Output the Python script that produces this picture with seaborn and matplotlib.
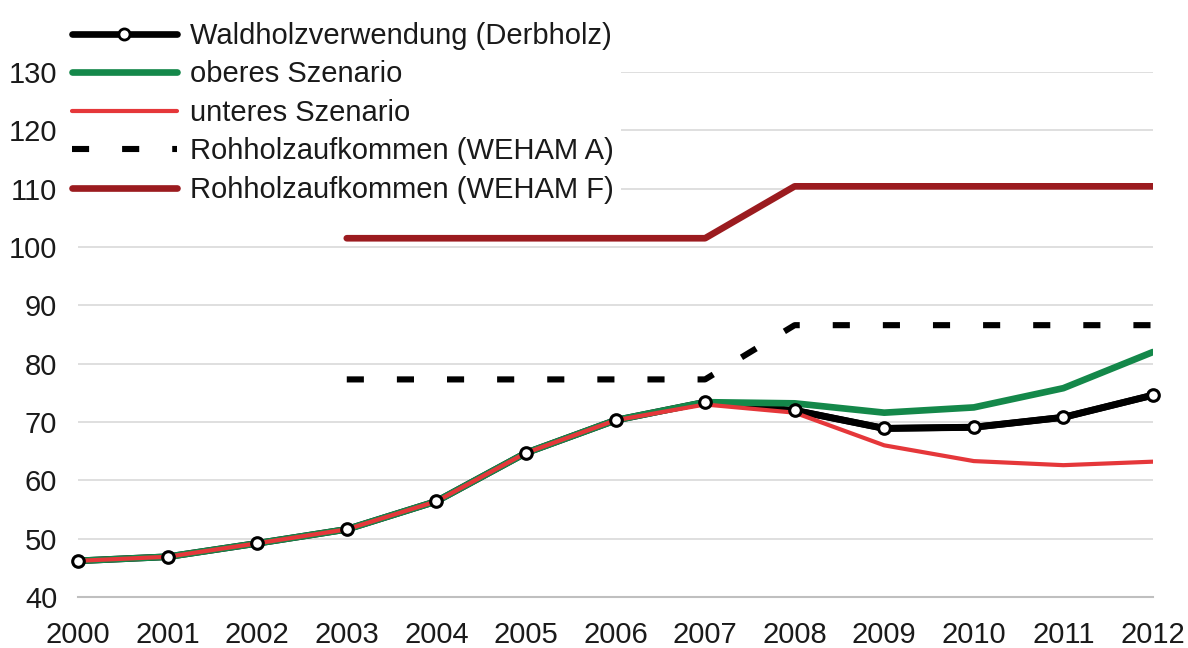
import pandas as pd
import matplotlib
matplotlib.use("Agg")
import matplotlib.pyplot as plt
import seaborn as sns
from matplotlib.lines import Line2D

# -------------------------------
# Data
# -------------------------------
years = [2000, 2001, 2002, 2003, 2004, 2005, 2006, 2007, 2008, 2009, 2010, 2011, 2012]
waldholz = [46.2, 46.9, 49.2, 51.6, 56.4, 64.7, 70.3, 73.4, 72.0, 68.9, 69.1, 70.8, 74.6]
oberes = [46.2, 46.9, 49.2, 51.6, 56.4, 64.7, 70.3, 73.4, 73.2, 71.6, 72.5, 75.8, 82.0]
unteres = [46.2, 46.9, 49.2, 51.6, 56.4, 64.7, 70.3, 73.0, 71.6, 66.0, 63.3, 62.6, 63.2]
weham_years = [2003, 2004, 2005, 2006, 2007, 2008, 2009, 2010, 2011, 2012]
weham_a = [77.3, 77.3, 77.3, 77.3, 77.3, 86.6, 86.6, 86.6, 86.6, 86.6]
weham_f = [101.5, 101.5, 101.5, 101.5, 101.5, 110.4, 110.4, 110.4, 110.4, 110.4]

labels = ["Waldholzverwendung (Derbholz)", "oberes Szenario", "unteres Szenario",
          "Rohholzaufkommen (WEHAM A)", "Rohholzaufkommen (WEHAM F)"]

df = pd.DataFrame({"jahr": years, "wald": waldholz, "ober": oberes, "unter": unteres})
dw = pd.DataFrame({"jahr": weham_years, "a": weham_a, "f": weham_f})

# -------------------------------
# Style
# -------------------------------
sns.set_style("white")
plt.rcParams['font.family'] = ['Liberation Sans', 'DejaVu Sans']
plt.rcParams['font.size'] = 21
txt = "#1a1a1a"
green = "#14884a"
red = "#e5373a"
darkred = "#9b1b1f"
dash = (2.8, 5.4)

fig = plt.figure(figsize=(11.88, 6.48), dpi=100)
ax = fig.add_axes([0.0657, 0.0787, 0.9048, 0.8102])

# -------------------------------
# Lines
# -------------------------------
sns.lineplot(data=dw, x="jahr", y="f", ax=ax, color=darkred, lw=4.8, zorder=3)
sns.lineplot(data=dw, x="jahr", y="a", ax=ax, color="black", lw=4.4, zorder=3)
ax.lines[-1].set_dashes(dash)
ax.lines[-1].set_dash_capstyle("butt")
sns.lineplot(data=df, x="jahr", y="wald", ax=ax, color="black", lw=4.8, zorder=4)
sns.lineplot(data=df, x="jahr", y="ober", ax=ax, color=green, lw=4.8, zorder=5)
sns.lineplot(data=df, x="jahr", y="unter", ax=ax, color=red, lw=3.0, zorder=6)
# black line on top of green once the scenarios split
sns.lineplot(data=df[df.jahr >= 2008], x="jahr", y="wald", ax=ax, color="black",
             lw=5.0, zorder=5.5)
ax.scatter(df.jahr, df.wald, s=70, facecolor="white", edgecolor="black",
           linewidth=2.2, zorder=7, clip_on=False)

# -------------------------------
# Axes
# -------------------------------
ax.set_xlim(2000, 2012)
ax.set_ylim(40, 130)
ax.set_xticks(years)
ax.set_yticks(range(40, 131, 10))
ax.set_xlabel("")
ax.set_ylabel("")
ax.grid(axis="y", color="#d9d9d9", lw=1.2)
ax.set_axisbelow(True)
for s in ["top", "right", "left"]:
    ax.spines[s].set_visible(False)
ax.spines["bottom"].set_color("#bfbfbf")
ax.spines["bottom"].set_linewidth(1.5)
ax.tick_params(axis="x", length=6, width=1.2, color="#bfbfbf", pad=11,
               labelsize=21, labelcolor=txt)
ax.tick_params(axis="y", length=0, pad=15, labelsize=21, labelcolor=txt)

# -------------------------------
# Legend
# -------------------------------
handles = [
    Line2D([], [], color="black", lw=4.8, marker="o", markersize=8,
           markerfacecolor="white", markeredgecolor="black", markeredgewidth=2),
    Line2D([], [], color=green, lw=4.8),
    Line2D([], [], color=red, lw=3.0),
    Line2D([], [], color="black", lw=4.4, dashes=dash, dash_capstyle="butt"),
    Line2D([], [], color=darkred, lw=4.8),
]
leg = fig.legend(handles, labels, loc="upper left", bbox_to_anchor=(0.042, 1.0),
                 numpoints=1, handlelength=3.6, handletextpad=0.45,
                 labelspacing=0.36, fontsize=21, frameon=True, borderpad=0.25,
                 facecolor="white", edgecolor="none", framealpha=1.0)
for t in leg.get_texts():
    t.set_color(txt)
leg.set_zorder(10)

fig.savefig("out.png", dpi=100)
